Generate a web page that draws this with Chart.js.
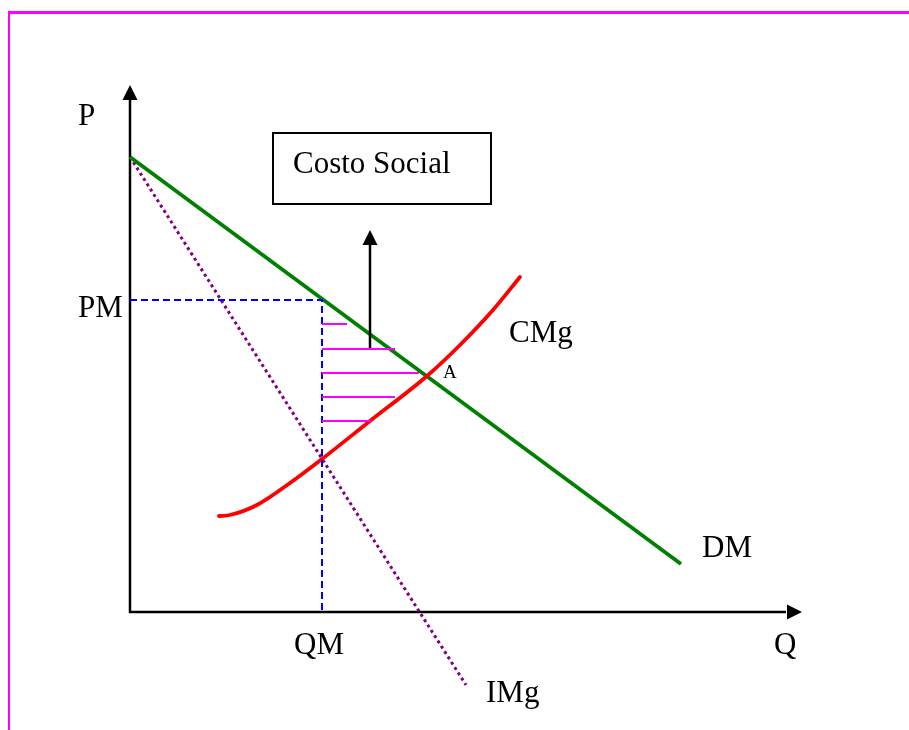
<!DOCTYPE html>
<html>
<head>
<meta charset="utf-8">
<script src="https://cdn.jsdelivr.net/npm/chart.js@4.4.1/dist/chart.umd.min.js"></script>
<style>
  html, body { margin: 0; padding: 0; background: #fff; }
  #wrap { position: relative; width: 909px; height: 730px; overflow: hidden; }
  #frame {
    position: absolute; left: 8px; top: 11px; right: 0; bottom: 0;
    border-top: 3px solid #ff00ff; border-left: 2px solid #ff00ff;
  }
  canvas { position: absolute; left: 0; top: 0; }
</style>
</head>
<body>
<div id="wrap">
  <div id="frame"></div>
  <canvas id="chart" width="909" height="730"></canvas>
</div>
<script>
// Q and P in chart units (1 unit = 10 px of the picture), origin where the axes meet
const qAxisEnd = 65.6
const pAxisEnd = 51.2

const demandQ = [0, 55.1]
const demandP = [45.5, 4.8]

const revenueQ = [0, 33.6]
const revenueP = [45.5, -7.3]

const costQ = [8.9, 10.0, 12.7, 16.0, 19.2, 24.0, 29.7, 33.0, 36.3, 39.0]
const costP = [9.6, 9.7, 10.7, 12.9, 15.3, 19.1, 23.6, 26.7, 30.2, 33.5]

const monopolyQ = 19.2
const monopolyP = 31.2

// short horizontal strokes of the social cost area
const shadeP = [28.8, 26.3, 23.9, 21.5, 19.1]
const shadeEndQ = [21.7, 26.5, 28.9, 26.5, 24.1]

const arrowQ = 24.0
const arrowP = [26.3, 36.7]

const boxQ = [14.3, 36.1]
const boxP = [40.8, 47.9]

const textLabels = [
  { text: "P", q: -5.2, p: 48.7 },
  { text: "PM", q: -5.2, p: 29.5 },
  { text: "QM", q: 16.4, p: -4.2 },
  { text: "Q", q: 64.4, p: -4.2 },
  { text: "IMg", q: 35.6, p: -9.0 },
  { text: "DM", q: 57.2, p: 5.5 },
  { text: "CMg", q: 37.9, p: 27.0 },
  { text: "A", q: 31.3, p: 23.4, small: true },
  { text: "Costo Social", q: 16.3, p: 43.9 },
]

const zip = (qs, ps) => qs.map((q, i) => ({ x: q, y: ps[i] }))

// shade strokes as one dataset, broken by gaps
const shadeData = []
shadeP.forEach((p, i) => {
  shadeData.push({ x: monopolyQ, y: p }, { x: shadeEndQ[i], y: p }, { x: shadeEndQ[i], y: null })
})

const serif = "'Liberation Serif', 'DejaVu Serif', serif"

function arrowHead(ctx, tx, ty, dir) {
  const len = 15
  const half = 7.5
  ctx.beginPath()
  if (dir === "up") {
    ctx.moveTo(tx, ty)
    ctx.lineTo(tx - half, ty + len)
    ctx.lineTo(tx + half, ty + len)
  } else {
    ctx.moveTo(tx, ty)
    ctx.lineTo(tx - len, ty - half)
    ctx.lineTo(tx - len, ty + half)
  }
  ctx.closePath()
  ctx.fill()
}

const extras = {
  id: "extras",
  afterDatasetsDraw(chart) {
    const { ctx, scales: { x, y } } = chart
    ctx.save()
    ctx.fillStyle = "#000"
    ctx.strokeStyle = "#000"

    // axis and social cost arrowheads
    arrowHead(ctx, x.getPixelForValue(0), y.getPixelForValue(pAxisEnd) - 15, "up")
    arrowHead(ctx, x.getPixelForValue(qAxisEnd) + 16, y.getPixelForValue(0), "right")
    arrowHead(ctx, x.getPixelForValue(arrowQ), y.getPixelForValue(arrowP[1]) - 15, "up")

    // label box
    const bx = x.getPixelForValue(boxQ[0])
    const by = y.getPixelForValue(boxP[1])
    ctx.lineWidth = 2
    ctx.strokeRect(bx, by, x.getPixelForValue(boxQ[1]) - bx, y.getPixelForValue(boxP[0]) - by)

    ctx.textBaseline = "alphabetic"
    ctx.textAlign = "left"
    textLabels.forEach((l) => {
      ctx.font = (l.small ? "19px " : "31px ") + serif
      ctx.fillText(l.text, x.getPixelForValue(l.q), y.getPixelForValue(l.p))
    })
    ctx.restore()
  },
}

new Chart(document.getElementById("chart"), {
  type: "scatter",
  data: {
    datasets: [
      {
        label: "Costo social",
        data: shadeData,
        borderColor: "#ff00ff",
        borderWidth: 2,
        showLine: true,
        spanGaps: false,
      },
      {
        label: "Arrow",
        data: [{ x: arrowQ, y: arrowP[0] }, { x: arrowQ, y: arrowP[1] }],
        borderColor: "#000",
        borderWidth: 2.5,
        showLine: true,
      },
      {
        label: "PM",
        data: [{ x: 0, y: monopolyP }, { x: monopolyQ, y: monopolyP }, { x: monopolyQ, y: 0 }],
        borderColor: "#0000ff",
        borderWidth: 2,
        borderDash: [7, 4],
        showLine: true,
      },
      {
        label: "CMg",
        data: zip(costQ, costP),
        borderColor: "#ff0000",
        borderWidth: 3.8,
        cubicInterpolationMode: "monotone",
        showLine: true,
        borderCapStyle: "round",
      },
      {
        label: "DM",
        data: zip(demandQ, demandP),
        borderColor: "#008000",
        borderWidth: 3.8,
        showLine: true,
      },
      {
        label: "IMg",
        data: zip(revenueQ, revenueP),
        borderColor: "#800080",
        borderWidth: 3,
        borderDash: [3, 3.3],
        showLine: true,
      },
      {
        label: "Axes",
        data: [{ x: 0, y: pAxisEnd }, { x: 0, y: 0 }, { x: qAxisEnd, y: 0 }],
        borderColor: "#000",
        borderWidth: 2.5,
        showLine: true,
      },
    ],
  },
  options: {
    responsive: false,
    animation: false,
    layout: { padding: 0 },
    elements: { point: { radius: 0, hoverRadius: 0 } },
    plugins: { legend: { display: false }, tooltip: { enabled: false } },
    scales: {
      x: { type: "linear", min: -13.0, max: 77.9, display: false },
      y: { type: "linear", min: -11.8, max: 61.2, display: false },
    },
  },
  plugins: [extras],
})
</script>
</body>
</html>
